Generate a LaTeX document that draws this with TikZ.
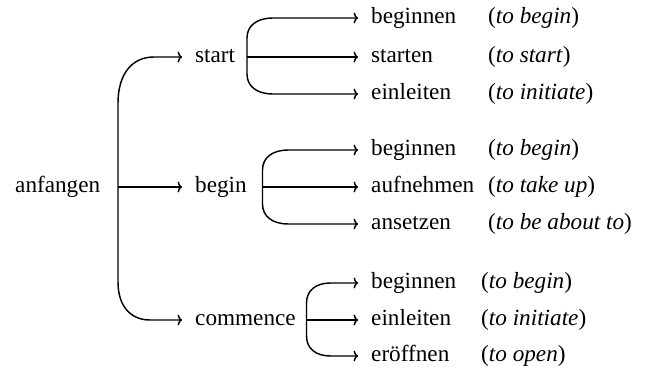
\documentclass[tikz,border=0pt]{standalone}
\usepackage{fontspec}
\setmainfont{Liberation Serif}
\usetikzlibrary{arrows.meta}
% curved branch from a vertical bar (#1) to a node (#2):
% #3 = signed length of the bend along the bar, #4 = its horizontal length
\newcommand\branchlink[4]{%
  \draw[link] (#1) -- ([yshift=#3]#1 |- #2.west)
    .. controls ([yshift=0.38*#3]#1 |- #2.west) and ([xshift=0.38*#4]#1 |- #2.west)
    .. ([xshift=#4]#1 |- #2.west) -- (#2.west);}
\begin{document}
\begin{tikzpicture}[x=1pt,y=-1pt,
  every node/.style={font=\fontsize{23.2}{27}\selectfont, text height=15.8pt, text depth=5.1pt},
  root/.style={anchor=west, inner xsep=0pt},
  word/.style={anchor=west, inner xsep=13pt},
  gloss/.style={anchor=west, inner xsep=0pt},
  link/.style={-{To[length=4.5pt,width=11pt]}, line width=1.45pt}]
\useasboundingbox (0,0) rectangle (650,374);

% root word and its three English senses
\node[root] (anf) at (15,187) {anfangen};
\node[word] (start) at (182,57) {start};
\node[word] (begin) at (182,187) {begin};
\node[word] (comm) at (182,320) {commence};

\coordinate (m) at (118,187);
\branchlink{m}{start}{-46pt}{36pt}
\draw[link] (m) -- (begin.west);
\branchlink{m}{comm}{38pt}{32pt}

% sense "start"
\node[word] (s1) at (358,18) {beginnen};
\node[word] (s2) at (358,57) {starten};
\node[word] (s3) at (358,94) {einleiten};
\node[gloss] (g1) at (488,18) {(\textit{to begin})};
\node[gloss] (g2) at (488,57) {(\textit{to start})};
\node[gloss] (g3) at (488,94) {(\textit{to initiate})};
\coordinate (sb) at (247,57);
\branchlink{sb}{s1}{-20pt}{26pt}
\draw[link] (sb) -- (s2.west);
\branchlink{sb}{s3}{20pt}{26pt}

% sense "begin"
\node[word] (b1) at (358,150) {beginnen};
\node[word] (b2) at (358,187) {aufnehmen};
\node[word] (b3) at (358,224) {ansetzen};
\node[gloss] (h1) at (488,150) {(\textit{to begin})};
\node[gloss] (h2) at (488,187) {(\textit{to take up})};
\node[gloss] (h3) at (488,224) {(\textit{to be about to})};
\coordinate (bb) at (262.5,187);
\branchlink{bb}{b1}{-20pt}{26pt}
\draw[link] (bb) -- (b2.west);
\branchlink{bb}{b3}{20pt}{26pt}

% sense "commence"
\node[word] (c1) at (358,283) {beginnen};
\node[word] (c2) at (358,320) {einleiten};
\node[word] (c3) at (358,356) {eröffnen};
\node[gloss] (k1) at (481,283) {(\textit{to begin})};
\node[gloss] (k2) at (481,320) {(\textit{to initiate})};
\node[gloss] (k3) at (481,356) {(\textit{to open})};
\coordinate (cb) at (306.5,320);
\branchlink{cb}{c1}{-20pt}{24pt}
\draw[link] (cb) -- (c2.west);
\branchlink{cb}{c3}{20pt}{24pt}
\end{tikzpicture}
\end{document}
